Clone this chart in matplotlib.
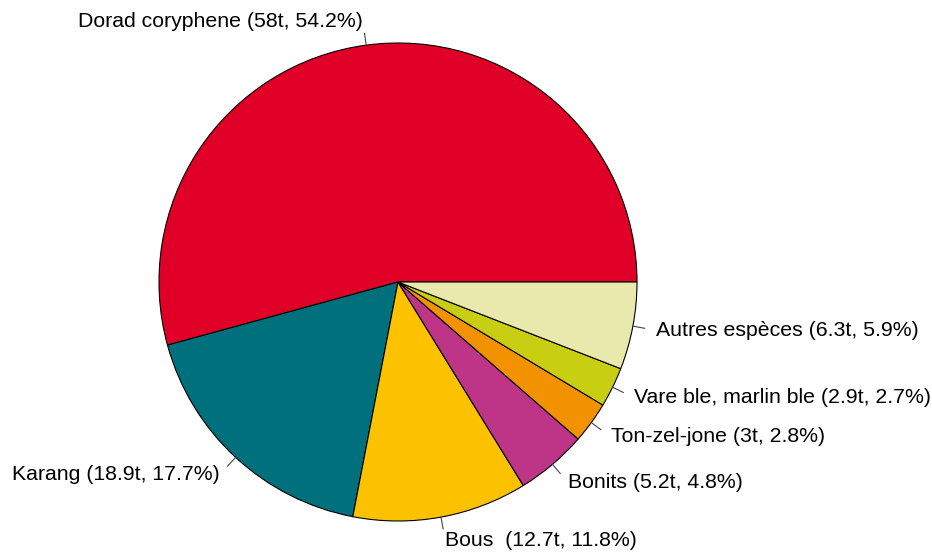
import numpy as np
import matplotlib
matplotlib.use('Agg')
from matplotlib import pyplot as plt

# slices in drawing order (counter-clockwise from 3 o'clock)
labels = ['Dorad coryphene (58t, 54.2%)',
          'Karang (18.9t, 17.7%)',
          'Bous  (12.7t, 11.8%)',
          'Bonits (5.2t, 4.8%)',
          'Ton-zel-jone (3t, 2.8%)',
          'Vare ble, marlin ble (2.9t, 2.7%)',
          'Autres espèces (6.3t, 5.9%)']
percent = [54.2, 17.7, 11.8, 4.8, 2.8, 2.7, 5.9]
colors = ['#E00027', '#00707D', '#FCC200', '#BE3588', '#F39200', '#C8CE12', '#E9E9AE']

plt.rcParams['font.family'] = ['Liberation Sans', 'DejaVu Sans']

fig = plt.figure(figsize=(9.32, 5.55), dpi=100)
ax = fig.add_axes([0, 0, 1, 1])

cx, cy, r = 398, 273, 239
wedges, _ = ax.pie(percent, colors=colors, startangle=0,
                   counterclock=True, radius=r, center=(cx, cy),
                   wedgeprops=dict(edgecolor='black', linewidth=0.8))

# leader lines and labels like base R pie()
for w, lab in zip(wedges, labels):
    a = np.deg2rad((w.theta1 + w.theta2) / 2)
    c, s = np.cos(a), np.sin(a)
    ax.plot([cx + r * c, cx + 1.05 * r * c],
            [cy + r * s, cy + 1.05 * r * s],
            color='#444444', lw=0.8)
    ax.text(cx + 1.1 * r * c, cy + 1.1 * r * s, lab, fontsize=15.3,
            ha='left' if c > 0 else 'right', va='center')

ax.set_xlim(0, 932)
ax.set_ylim(0, 555)
ax.set_aspect('equal')
ax.axis('off')
fig.savefig('out.png', dpi=100)
